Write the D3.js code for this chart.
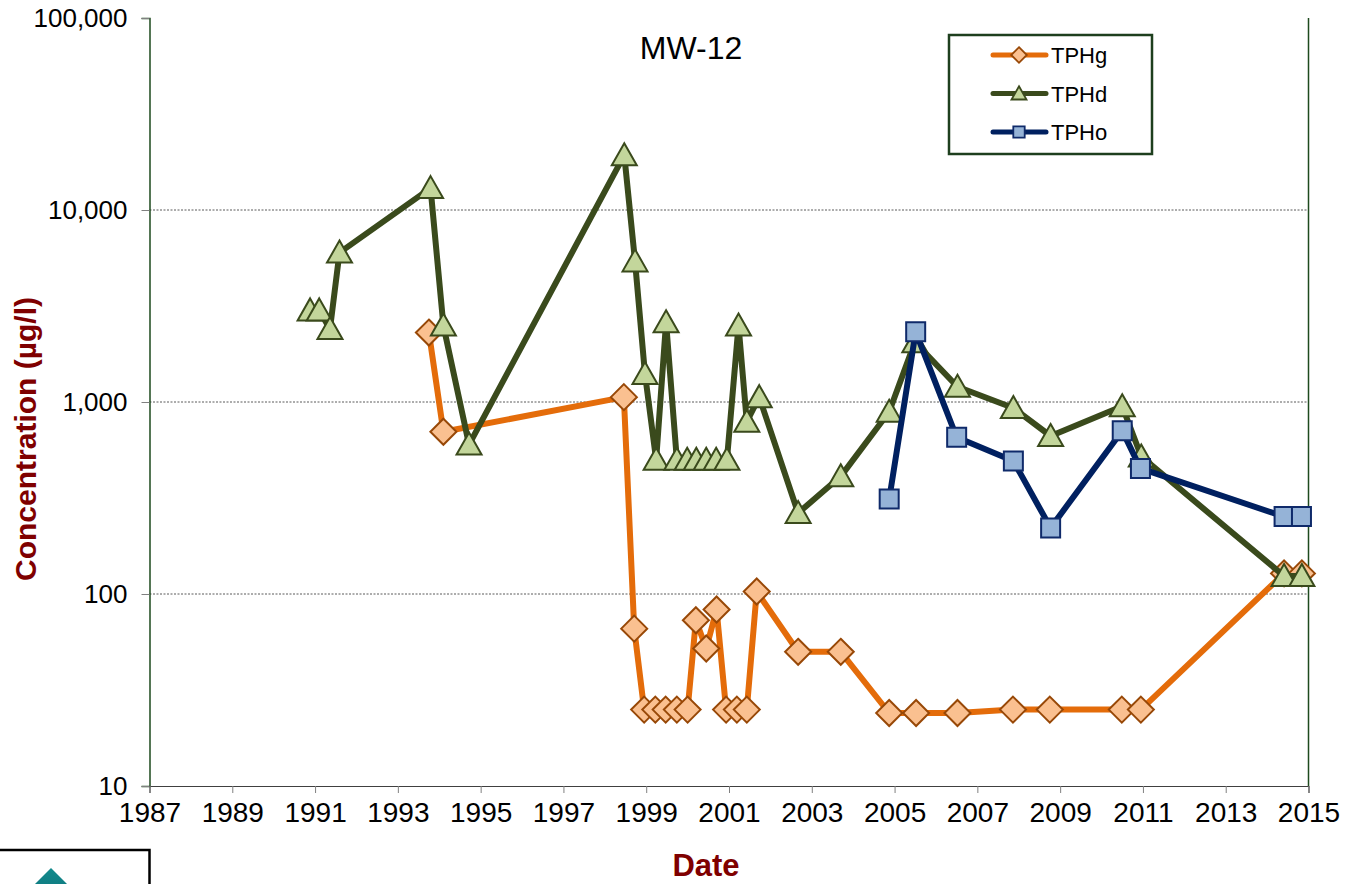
<!DOCTYPE html>
<html>
<head>
<meta charset="utf-8">
<script src="https://cdn.jsdelivr.net/npm/d3@7"></script>
<style>
  html, body { margin: 0; padding: 0; background: #fff; overflow: hidden; }
  svg { display: block; font-family: Arial, "Liberation Sans", sans-serif; }
</style>
</head>
<body>
<svg id="chart" width="1356" height="884"></svg>
<script>
// ---- data (decimal years, µg/l) ----
const tphgDates = [1993.75, 1994.10, 1998.46, 1998.71, 1998.95, 1999.22, 1999.47, 1999.74, 2000.00,
  2000.20, 2000.45, 2000.70, 2000.93, 2001.19, 2001.43, 2001.67, 2002.67, 2003.70, 2004.87,
  2005.52, 2006.52, 2007.86, 2008.75, 2010.49, 2010.95, 2014.41, 2014.84];
const tphgValues = [2300, 700, 1060, 66, 25, 25, 25, 25, 25,
  73, 52, 83, 25, 25, 25, 103, 50, 50, 24,
  24, 24, 25, 25, 25, 25, 128, 128];

const tphdDates = [1990.88, 1991.10, 1991.36, 1991.59, 1993.79, 1994.10, 1994.72, 1998.47, 1998.73,
  1998.97, 1999.24, 1999.48, 1999.74, 1999.99, 2000.21, 2000.45, 2000.69, 2000.95, 2001.23,
  2001.43, 2001.73, 2002.67, 2003.70, 2004.87, 2005.49, 2006.52, 2007.87, 2008.77, 2010.50,
  2010.96, 2014.41, 2014.84];
const tphdValues = [3000, 3000, 2400, 6000, 13000, 2500, 600, 19300, 5400,
  1400, 500, 2600, 500, 500, 500, 500, 500, 500, 2500,
  790, 1060, 264, 410, 890, 2050, 1200, 930, 665, 950,
  520, 124, 124];

const tphoDates = [2004.87, 2005.51, 2006.50, 2007.87, 2008.77, 2010.50, 2010.94, 2014.41, 2014.83];
const tphoValues = [312, 2320, 655, 493, 221, 709, 451, 253, 253];

const xTicks = [1987, 1989, 1991, 1993, 1995, 1997, 1999, 2001, 2003, 2005, 2007, 2009, 2011, 2013, 2015];
const yTicks = [10, 100, 1000, 10000, 100000];
const seriesNames = ["TPHg", "TPHd", "TPHo"];

// ---- layout ----
const svg = d3.select("#chart");
const L = 149.5, R = 1308.5, T = 18, B = 786;
const x = d3.scaleLinear().domain([1987, 2015]).range([L, R]);
const y = d3.scaleLog().domain([10, 100000]).range([B, T]);

const styles = {
  TPHg: { line: "#E46C0A", fill: "#FAC090", stroke: "#984807", shape: "diamond" },
  TPHd: { line: "#3A4A1C", fill: "#C3D69B", stroke: "#3A4A1C", shape: "triangle" },
  TPHo: { line: "#002060", fill: "#95B3D7", stroke: "#0F2A6A", shape: "square" }
};

// gridlines
svg.append("g").selectAll("line")
  .data([100, 1000, 10000])
  .join("line")
  .attr("x1", L).attr("x2", R)
  .attr("y1", d => y(d)).attr("y2", d => y(d))
  .attr("stroke", "#5a5a5a").attr("stroke-width", 1).attr("stroke-dasharray", "2,1.5");

// right border of plot area
svg.append("line").attr("x1", R).attr("x2", R).attr("y1", T).attr("y2", B)
  .attr("stroke", "#1E4A1E").attr("stroke-width", 1.5);

// y axis
const yAxis = svg.append("g").attr("transform", `translate(${L},0)`)
  .call(d3.axisLeft(y).tickValues(yTicks).tickFormat(d3.format(",")).tickSize(8).tickPadding(14));
yAxis.select(".domain").attr("stroke", "#1E4A1E").attr("stroke-width", 1.5);
yAxis.selectAll(".tick line").attr("stroke", "#808080");
yAxis.selectAll("text").attr("font-size", 26).attr("fill", "#000").attr("font-family", "Arial, 'Liberation Sans', sans-serif");

// x axis
const xAxis = svg.append("g").attr("transform", `translate(0,${B})`)
  .call(d3.axisBottom(x).tickValues(xTicks).tickFormat(d3.format("d")).tickSize(7).tickPadding(9));
xAxis.select(".domain").attr("stroke", "#404040").attr("stroke-width", 1.2);
xAxis.selectAll(".tick line").attr("stroke", "#808080");
xAxis.selectAll("text").attr("font-size", 28).attr("fill", "#000").attr("font-family", "Arial, 'Liberation Sans', sans-serif");

// marker path generator
function markerPath(shape) {
  if (shape === "diamond") return "M0,-13L13,0L0,13L-13,0Z";
  if (shape === "triangle") return "M0,-12L12.5,10L-12.5,10Z";
  return "M-9.5,-9.5H9.5V9.5H-9.5Z";
}

const series = [
  { name: "TPHg", dates: tphgDates, values: tphgValues },
  { name: "TPHd", dates: tphdDates, values: tphdValues },
  { name: "TPHo", dates: tphoDates, values: tphoValues }
];

const line = d3.line().x(d => x(d[0])).y(d => y(d[1]));

series.forEach(s => {
  const st = styles[s.name];
  const pts = s.dates.map((d, i) => [d, s.values[i]]);
  const g = svg.append("g");
  g.append("path").datum(pts).attr("d", line)
    .attr("fill", "none").attr("stroke", st.line).attr("stroke-width", 6)
    .attr("stroke-linejoin", "round").attr("stroke-linecap", "round");
  g.selectAll("path.m").data(pts).join("path").attr("class", "m")
    .attr("transform", d => `translate(${x(d[0])},${y(d[1])})`)
    .attr("d", markerPath(st.shape))
    .attr("fill", st.fill).attr("stroke", st.stroke).attr("stroke-width", 2);
});

// title
svg.append("text").attr("x", 691).attr("y", 59).attr("text-anchor", "middle")
  .attr("font-size", 32).attr("fill", "#000").text("MW-12");

// legend
const lg = svg.append("g");
lg.append("rect").attr("x", 949).attr("y", 35).attr("width", 203).attr("height", 119)
  .attr("fill", "#fff").attr("stroke", "#1E3F1E").attr("stroke-width", 2.5);
seriesNames.forEach((n, i) => {
  const st = styles[n];
  const yy = 55 + i * 38.5;
  lg.append("line").attr("x1", 993).attr("x2", 1046).attr("y1", yy).attr("y2", yy)
    .attr("stroke", st.line).attr("stroke-width", 5).attr("stroke-linecap", "round");
  lg.append("path").attr("d", markerPath(st.shape))
    .attr("transform", `translate(1019,${yy}) scale(0.6)`)
    .attr("fill", st.fill).attr("stroke", st.stroke).attr("stroke-width", 3);
  lg.append("text").attr("x", 1051).attr("y", yy + 8).attr("font-size", 22)
    .attr("fill", "#000").text(n);
});

// axis titles
svg.append("text").attr("transform", "translate(36,439) rotate(-90)")
  .attr("text-anchor", "middle").attr("font-size", 30).attr("font-weight", "bold")
  .attr("fill", "#7F0000").text("Concentration (µg/l)");
svg.append("text").attr("x", 706).attr("y", 876).attr("text-anchor", "middle")
  .attr("font-size", 31).attr("font-weight", "bold").attr("fill", "#7F0000").text("Date");

// logo box at bottom left
const grad = svg.append("defs").append("linearGradient").attr("id", "teal")
  .attr("x1", 0).attr("y1", 0).attr("x2", 0).attr("y2", 1);
grad.append("stop").attr("offset", 0).attr("stop-color", "#128a8c");
grad.append("stop").attr("offset", 1).attr("stop-color", "#0d6f78");
svg.append("rect").attr("x", -5).attr("y", 850).attr("width", 154.5).attr("height", 60)
  .attr("fill", "#fff").attr("stroke", "#000").attr("stroke-width", 2.5);
svg.append("path").attr("d", "M51,868L70,887L51,906L32,887Z").attr("fill", "url(#teal)");
</script>
</body>
</html>
